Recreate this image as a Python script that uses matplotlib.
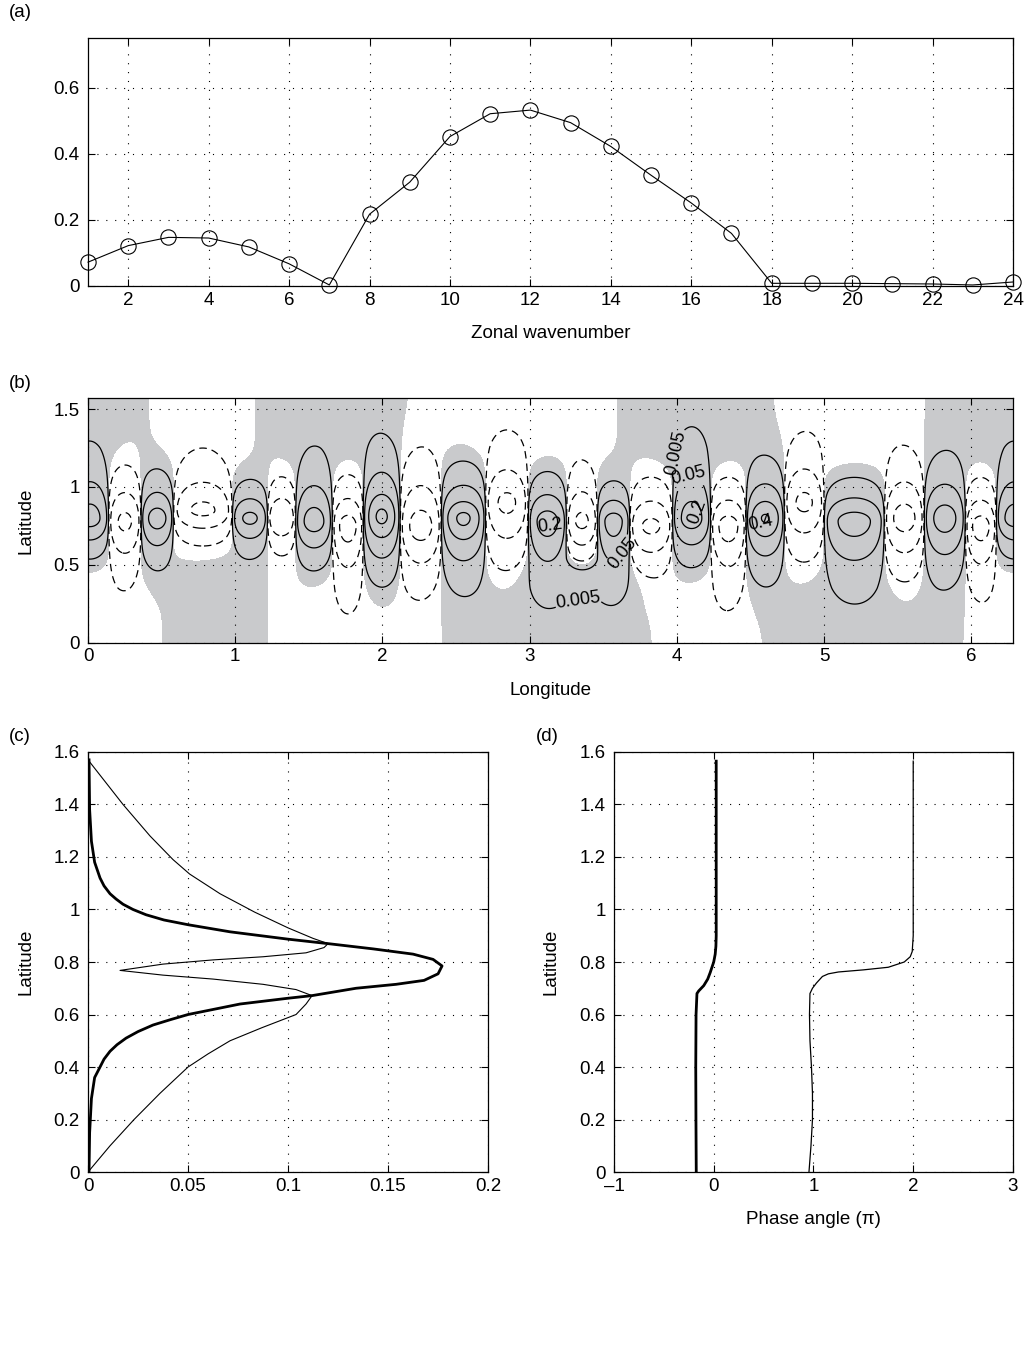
import numpy as np
import matplotlib
matplotlib.use('Agg')
import matplotlib.pyplot as plt

plt.rcParams['font.family'] = ['Liberation Sans', 'DejaVu Sans']
plt.rcParams['font.size'] = 13.5
plt.rcParams['axes.linewidth'] = 0.9

# (a) spectrum against zonal wavenumber
wavenumber = list(range(1, 25))
spectrum = [0.072, 0.122, 0.147, 0.145, 0.118, 0.067, 0.003, 0.217, 0.314, 0.452,
            0.521, 0.532, 0.494, 0.422, 0.335, 0.251, 0.159, 0.008, 0.008, 0.008,
            0.007, 0.006, 0.003, 0.012]

# (b) eddies along the jet: zero crossings (longitude) between neighbouring eddies,
# first segment wraps round 2*pi; signed peak value, centre latitude and the
# latitudes where the outer (0.005) contour ends
eddy_edges = [0.14, 0.36, 0.58, 0.98, 1.22, 1.41, 1.66, 1.87, 2.12, 2.40, 2.70, 2.99,
              3.25, 3.46, 3.68, 3.97, 4.23, 4.47, 4.73, 5.00, 5.41, 5.68, 5.96, 6.17]
eddy_amp = [0.30, -0.25, 0.30, -0.25, 0.25, -0.20, 0.30, -0.30, 0.45, -0.30, 0.45, -0.25,
            0.30, -0.25, 0.30, -0.25, 0.30, -0.30, 0.42, -0.25, 0.30, -0.30, 0.30, -0.30]
eddy_lat = [0.80, 0.78, 0.80, 0.85, 0.80, 0.80, 0.78, 0.75, 0.81, 0.75, 0.80, 0.90,
            0.78, 0.78, 0.78, 0.75, 0.80, 0.75, 0.80, 0.90, 0.78, 0.80, 0.80, 0.75]
eddy_top = [1.25, 1.15, 1.12, 1.21, 1.05, 1.07, 1.22, 1.09, 1.32, 1.25, 1.18, 1.32,
            1.11, 1.16, 1.04, 1.07, 1.33, 1.07, 1.20, 1.33, 1.07, 1.25, 1.22, 1.07]
eddy_bottom = [0.53, 0.37, 0.46, 0.62, 0.54, 0.56, 0.45, 0.24, 0.33, 0.29, 0.31, 0.44,
               0.30, 0.47, 0.30, 0.41, 0.47, 0.25, 0.36, 0.51, 0.30, 0.37, 0.35, 0.28]
# weak positive patch joining the two eddies near longitude 3.3 below the jet
bridge_lon, bridge_lat, bridge_amp = [3.35], [0.42], [0.01]
bridge_wlon, bridge_wlat = [0.2], [0.1]
# weak sign pattern near the equator and near the pole (shading only)
south_edges = [0.51, 1.22, 2.41, 3.83, 4.59, 5.94]
south_first = -1
north_edges = [0.41, 1.14, 2.19, 3.60, 4.65, 5.69]
north_first = 1
contour_levels = [0.005, 0.05, 0.2, 0.4]
label_spots = [(4.0, 1.22), (4.08, 1.07), (3.62, 0.58), (3.33, 0.26)]
inner_labels = [('0.2', 3.14, 0.75, 8), ('0.2', 4.14, 0.84, 70), ('0.4', 4.57, 0.77, 12)]

# (c) meridional profiles
lat_c_thick = [0, 0.15, 0.28, 0.36, 0.40, 0.43, 0.46, 0.485, 0.51, 0.535, 0.56, 0.58,
               0.60, 0.62, 0.64, 0.662, 0.672, 0.70, 0.715, 0.73, 0.755, 0.785, 0.81,
               0.83, 0.85, 0.87, 0.887, 0.915, 0.942, 0.96, 0.98, 1.0, 1.02, 1.04, 1.06,
               1.09, 1.12, 1.18, 1.26, 1.38, 1.57]
amp_c_thick = [0.0005, 0.0008, 0.0017, 0.0033, 0.006, 0.008, 0.011, 0.0145, 0.019,
               0.025, 0.0325, 0.041, 0.05, 0.063, 0.076, 0.1, 0.112, 0.134, 0.154,
               0.168, 0.175, 0.177, 0.1725, 0.1625, 0.1425, 0.12, 0.1, 0.071, 0.05,
               0.038, 0.029, 0.0225, 0.0175, 0.014, 0.011, 0.008, 0.006, 0.0033,
               0.0017, 0.0008, 0.0005]
lat_c_thin = [0, 0.1, 0.2, 0.3, 0.4, 0.45, 0.5, 0.55, 0.60, 0.64, 0.672, 0.695, 0.715,
              0.735, 0.75, 0.768, 0.792, 0.808, 0.82, 0.835, 0.855, 0.87, 0.89, 0.93,
              0.99, 1.06, 1.135, 1.19, 1.28, 1.40, 1.57]
amp_c_thin = [0, 0.011, 0.023, 0.036, 0.05, 0.06, 0.071, 0.087, 0.104, 0.109, 0.112,
              0.104, 0.0875, 0.0625, 0.0375, 0.016, 0.0375, 0.0625, 0.0875, 0.109,
              0.118, 0.12, 0.1125, 0.1, 0.0833, 0.066, 0.0508, 0.0425, 0.031, 0.0175,
              0.0]

# (d) phase angle (units of pi)
lat_d_thick = [0, 0.2, 0.4, 0.6, 0.68, 0.69, 0.71, 0.735, 0.76, 0.8, 0.83, 0.86, 0.9,
               1.2, 1.565]
phase_d_thick = [-0.175, -0.178, -0.18, -0.177, -0.168, -0.15, -0.10, -0.06, -0.035,
                 0.0, 0.015, 0.022, 0.025, 0.025, 0.025]
lat_d_thin = [0, 0.1, 0.2, 0.3, 0.4, 0.5, 0.6, 0.68, 0.70, 0.72, 0.745, 0.755, 0.762,
              0.77, 0.78, 0.8, 0.82, 0.84, 0.9, 1.565]
phase_d_thin = [0.955, 0.975, 0.99, 0.99, 0.98, 0.965, 0.96, 0.965, 0.99, 1.03, 1.09,
                1.15, 1.25, 1.5, 1.75, 1.91, 1.97, 1.99, 2.0, 2.0]


def eddy_field(LON, LAT):
    e = np.r_[eddy_edges[-1] - 2 * np.pi, eddy_edges]
    x = np.where(LON >= eddy_edges[-1], LON - 2 * np.pi, LON)
    F = np.zeros_like(LON)
    for i, A in enumerate(eddy_amp):
        a, b = e[i], e[i + 1]
        m = (x >= a) & (x < b)
        k = np.arccosh(abs(A) / 0.005)
        L = np.where(LAT >= eddy_lat[i], (eddy_top[i] - eddy_lat[i]) / k,
                     (eddy_lat[i] - eddy_bottom[i]) / k)
        prof = A * np.sin(np.pi * (x - a) / (b - a)) / np.cosh((LAT - eddy_lat[i]) / L)
        F[m] = prof[m]
    for x0, y0, A, wx, wy in zip(bridge_lon, bridge_lat, bridge_amp, bridge_wlon, bridge_wlat):
        F += A * np.exp(-0.5 * ((LON - x0) / wx) ** 2 - 0.5 * ((LAT - y0) / wy) ** 2)
    return F


def sign_waves(LON, edges, first):
    e = np.r_[edges[-1] - 2 * np.pi, edges]
    x = np.where(LON >= edges[-1], LON - 2 * np.pi, LON)
    B = np.zeros_like(LON)
    s = first
    for i in range(len(edges)):
        a, b = e[i], e[i + 1]
        m = (x >= a) & (x < b)
        B[m] = s * np.sin(np.pi * (x[m] - a) / (b - a))
        s = -s
    return B


def style(ax):
    ax.tick_params(direction='in', top=True, right=True, length=5, width=0.8,
                   labelsize=13.5)
    ax.tick_params(axis='x', pad=4)
    ax.tick_params(axis='y', pad=6)
    ax.grid(True, color='k', linestyle=(0, (1, 7)), linewidth=0.8)
    ax.xaxis.labelpad = 12
    ax.yaxis.labelpad = 14


fig = plt.figure(figsize=(10.26, 13.63), dpi=100)

# (a)
ax = fig.add_axes([0.0858, 0.7902, 0.9015, 0.1819])
ax.plot(wavenumber, spectrum, 'k-', lw=0.8, marker='o', ms=11, mfc='none', mew=0.8,
        clip_on=False, zorder=3)
ax.set_xlim(1, 24)
ax.set_ylim(0, 0.75)
ax.set_xticks(range(2, 25, 2))
ax.set_yticks([0, 0.2, 0.4, 0.6])
ax.set_yticklabels(['0', '0.2', '0.4', '0.6'])
ax.set_xlabel('Zonal wavenumber')
style(ax)

# (b)
lon = np.linspace(0, 2 * np.pi, 900)
lat = np.linspace(0, np.pi / 2, 400)
LON, LAT = np.meshgrid(lon, lat)
wS = np.clip((0.65 - LAT) / 0.3, 0, 1)
wN = np.clip((LAT - 0.95) / 0.3, 0, 1)
psi = eddy_field(LON, LAT) + 0.002 * (wS * sign_waves(LON, south_edges, south_first)
                                      + wN * sign_waves(LON, north_edges, north_first))

ax = fig.add_axes([0.0858, 0.5283, 0.9015, 0.1797])
ax.contourf(lon, lat, psi, levels=[-1, 0, 1], colors=['white', '#c9cacc'])
neg = [-v for v in contour_levels[::-1]]
ax.contour(lon, lat, psi, levels=neg, colors='k', linewidths=0.9,
           linestyles=[(0, (6, 4))] * len(neg))
cs = ax.contour(lon, lat, psi, levels=contour_levels, colors='k', linewidths=0.9)
ax.set_xlim(0, 2 * np.pi)
ax.set_ylim(0, np.pi / 2)
ax.set_xticks(range(0, 7))
ax.set_yticks([0, 0.5, 1, 1.5])
ax.set_yticklabels(['0', '0.5', '1', '1.5'])
ax.set_xlabel('Longitude')
ax.set_ylabel('Latitude')
style(ax)
ax.clabel(cs, manual=label_spots, fmt='%g', fontsize=13, inline=True, inline_spacing=2)
for txt, x, y, rot in inner_labels:
    ax.text(x, y, txt, fontsize=13, rotation=rot, ha='center', va='center', zorder=4)

# (c)
ax = fig.add_axes([0.0858, 0.1401, 0.3899, 0.3082])
ax.plot(amp_c_thick, lat_c_thick, 'k-', lw=2.0)
ax.plot(amp_c_thin, lat_c_thin, 'k-', lw=0.8)
ax.set_xlim(0, 0.2)
ax.set_ylim(0, 1.6)
ax.set_xticks([0, 0.05, 0.1, 0.15, 0.2])
ax.set_xticklabels(['0', '0.05', '0.1', '0.15', '0.2'])
ax.set_yticks(np.arange(0, 1.61, 0.2))
ax.set_yticklabels(['0', '0.2', '0.4', '0.6', '0.8', '1', '1.2', '1.4', '1.6'])
ax.set_ylabel('Latitude')
style(ax)

# (d)
ax = fig.add_axes([0.5984, 0.1401, 0.3889, 0.3082])
ax.plot(phase_d_thick, lat_d_thick, 'k-', lw=2.0)
ax.plot(phase_d_thin, lat_d_thin, 'k-', lw=0.9)
ax.set_xlim(-1, 3)
ax.set_ylim(0, 1.6)
ax.set_xticks([-1, 0, 1, 2, 3])
ax.set_xticklabels(['\u20131', '0', '1', '2', '3'])
ax.set_yticks(np.arange(0, 1.61, 0.2))
ax.set_yticklabels(['0', '0.2', '0.4', '0.6', '0.8', '1', '1.2', '1.4', '1.6'])
ax.set_xlabel('Phase angle (\u03c0)')
ax.set_ylabel('Latitude')
style(ax)

for txt, x, y in [('(a)', 0.009, 0.9905), ('(b)', 0.009, 0.719),
                  ('(c)', 0.009, 0.4593), ('(d)', 0.522, 0.4593)]:
    fig.text(x, y, txt, fontsize=13.5, va='center', ha='left')

fig.savefig('out.png', dpi=100)
